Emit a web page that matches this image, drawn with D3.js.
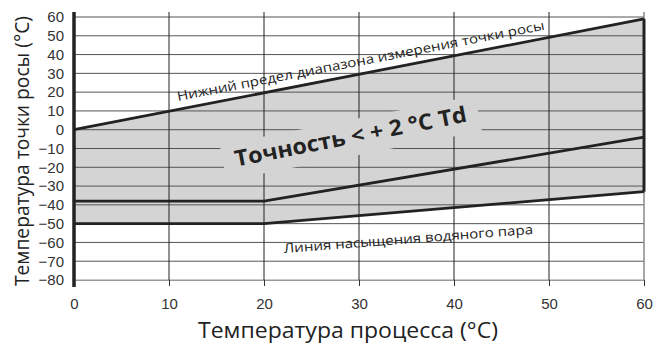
<!DOCTYPE html>
<html>
<head>
<meta charset="utf-8">
<script src="https://cdn.jsdelivr.net/npm/d3@7"></script>
<style>
  body { margin: 0; background: #fff; }
  svg { display: block; }
</style>
</head>
<body>
<svg id="chart" width="657" height="346"></svg>
<script>
// data
var xTicks = [0, 10, 20, 30, 40, 50, 60];
var yTicks = [60, 50, 40, 30, 20, 10, 0, -10, -20, -30, -40, -50, -60, -70, -80];
var upperX = [0, 60];
var upperY = [0, 59];
var accuracyX = [0, 20, 60];
var accuracyY = [-38, -38, -4];
var saturationX = [0, 20, 60];
var saturationY = [-50, -50, -33];

var svg = d3.select("#chart");
var w = 657, h = 346;

var x = d3.scaleLinear().domain([0, 60]).range([74, 644]);
var y = d3.scaleLinear().domain([-80, 60]).range([280, 17]);

var pts = function(xs, ys) {
    return xs.map(function(v, i) { return [v, ys[i]]; });
};

var line = d3.line()
    .x(function(d) { return x(d[0]); })
    .y(function(d) { return y(d[1]); });

// shaded range
var area = pts(upperX, upperY).concat(pts(saturationX, saturationY).reverse());
svg.append("path")
    .attr("d", line(area) + "Z")
    .attr("fill", "#d4d4d4");

// grid
svg.append("g").selectAll("line")
    .data(yTicks)
    .enter().append("line")
    .attr("x1", x(0)).attr("x2", x(60))
    .attr("y1", function(d) { return y(d); })
    .attr("y2", function(d) { return y(d); })
    .attr("stroke", function(d) { return d === -80 ? "#999" : "#555"; })
    .attr("stroke-width", 1);

svg.append("g").selectAll("line")
    .data(xTicks.slice(1, -1))
    .enter().append("line")
    .attr("x1", function(d) { return x(d); })
    .attr("x2", function(d) { return x(d); })
    .attr("y1", 12).attr("y2", y(-80))
    .attr("stroke", "#222")
    .attr("stroke-width", 1);

// right border
svg.append("line")
    .attr("x1", x(60)).attr("x2", x(60))
    .attr("y1", 12).attr("y2", y(-80))
    .attr("stroke", "#888").attr("stroke-width", 1.5);

// x axis
var xAxis = d3.axisBottom(x).tickValues(xTicks).tickSize(6).tickSizeOuter(0);
var gx = svg.append("g")
    .attr("transform", "translate(0," + y(-80) + ")")
    .call(xAxis);
gx.select(".domain").attr("stroke", "#999");
gx.selectAll(".tick line").attr("stroke", "#333");
gx.selectAll(".tick text")
    .attr("font-family", "Liberation Sans, Arial, sans-serif")
    .attr("font-size", 15)
    .attr("fill", "#333")
    .attr("dy", "1.3em");

// y axis
var yAxis = d3.axisLeft(y).tickValues(yTicks).tickSize(0).tickPadding(10);
var gy = svg.append("g")
    .attr("transform", "translate(" + x(0) + ",0)")
    .call(yAxis);
gy.select(".domain").remove();
gy.selectAll(".tick text")
    .attr("font-family", "Liberation Sans, Arial, sans-serif")
    .attr("font-size", 15)
    .attr("fill", "#333");

svg.append("line")
    .attr("x1", x(0)).attr("x2", x(0))
    .attr("y1", 12).attr("y2", 287)
    .attr("stroke", "#222").attr("stroke-width", 3.5);

// curves
var curves = [pts(upperX, upperY), pts(accuracyX, accuracyY), pts(saturationX, saturationY)];
svg.append("g").selectAll("path")
    .data(curves)
    .enter().append("path")
    .attr("d", line)
    .attr("fill", "none")
    .attr("stroke", "#222")
    .attr("stroke-width", 2.8);

svg.append("line")
    .attr("x1", x(60)).attr("x2", x(60))
    .attr("y1", y(upperY[1])).attr("y2", y(saturationY[2]))
    .attr("stroke", "#222").attr("stroke-width", 3);

// annotations
var angle = Math.atan2(y(upperY[1]) - y(upperY[0]), x(upperX[1]) - x(upperX[0])) * 180 / Math.PI;

svg.append("text")
    .attr("transform", "translate(" + 178 + "," + 101 + ") rotate(" + angle + ")")
    .attr("font-family", "Open Sans, sans-serif")
    .attr("font-size", 13)
    .attr("textLength", 374)
    .attr("lengthAdjust", "spacingAndGlyphs")
    .attr("fill", "#222")
    .text("Нижний предел диапазона измерения точки росы");

var acc = svg.append("g")
    .attr("transform", "translate(352,144) rotate(" + angle + ")");
acc.append("rect")
    .attr("x", -130).attr("y", -24)
    .attr("width", 260).attr("height", 36)
    .attr("fill", "#d4d4d4");
acc.append("text")
    .attr("text-anchor", "middle")
    .attr("font-family", "Open Sans, sans-serif")
    .attr("font-weight", "bold")
    .attr("font-size", 22)
    .attr("textLength", 236)
    .attr("lengthAdjust", "spacingAndGlyphs")
    .attr("fill", "#222")
    .text("Точность < + 2 °C Td");

svg.append("text")
    .attr("transform", "translate(284,253) rotate(-4.4)")
    .attr("font-family", "Open Sans, sans-serif")
    .attr("font-size", 13)
    .attr("textLength", 250)
    .attr("lengthAdjust", "spacingAndGlyphs")
    .attr("fill", "#222")
    .text("Линия насыщения водяного пара");

// axis titles
svg.append("text")
    .attr("x", 348).attr("y", 338)
    .attr("text-anchor", "middle")
    .attr("font-family", "Open Sans, sans-serif")
    .attr("font-size", 21)
    .attr("textLength", 300)
    .attr("lengthAdjust", "spacingAndGlyphs")
    .attr("fill", "#222")
    .text("Температура процесса (°C)");

svg.append("text")
    .attr("transform", "translate(29,286) rotate(-90)")
    .attr("font-family", "Open Sans, sans-serif")
    .attr("font-size", 20)
    .attr("textLength", 270)
    .attr("lengthAdjust", "spacingAndGlyphs")
    .attr("fill", "#222")
    .text("Температура точки росы (°C)");
</script>
</body>
</html>
